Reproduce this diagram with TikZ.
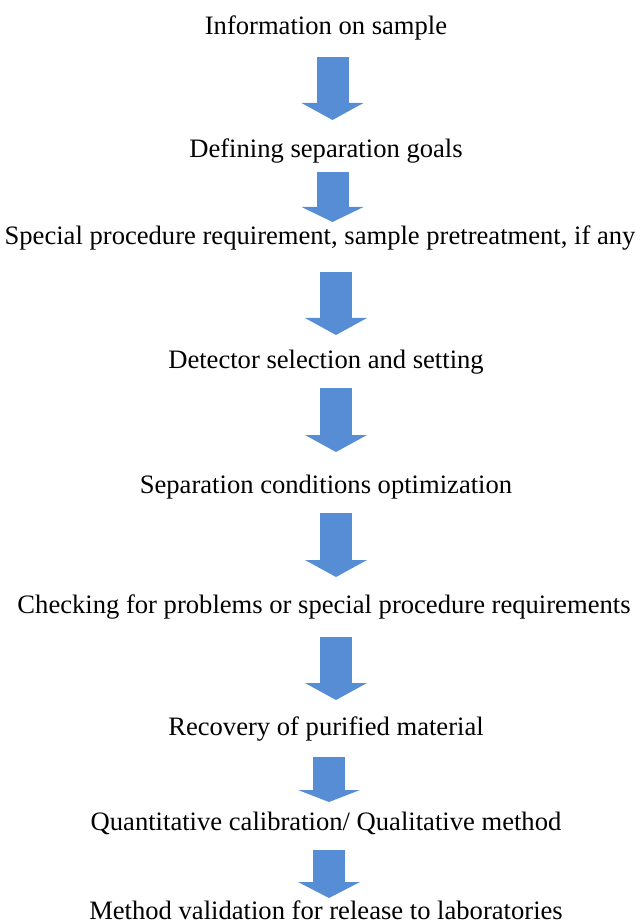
\documentclass[tikz,border=0pt]{standalone}
\usepackage{fontspec}
\setmainfont{Liberation Serif}
\usetikzlibrary{positioning, arrows.meta}
\definecolor{stepblue}{RGB}{86,141,213}

\begin{document}
\begin{tikzpicture}[
        x=0.5pt, y=-0.5pt,
        step_text/.style={anchor=base, inner sep=0pt, font=\fontsize{13.3}{15}\selectfont},
        block_arrow/.style={draw=stepblue, line width=16pt, -{Triangle[width=31pt, length=#1, line width=0pt, fill=stepblue]}},
        block_arrow/.default=8.5pt
    ]
        \useasboundingbox (0,0) rectangle (641,924);

        % steps of the method development
        \node[step_text] (info) at (326,35) {Information on sample};
        \node[step_text] (goals) at (326,158) {Defining separation goals};
        \node[step_text] (special) at (320,245) {Special procedure requirement, sample pretreatment, if any};
        \node[step_text] (detector) at (326,369) {Detector selection and setting};
        \node[step_text] (optim) at (326,493) {Separation conditions optimization};
        \node[step_text] (checking) at (324,613) {Checking for problems or special procedure requirements};
        \node[step_text] (recovery) at (326,735) {Recovery of purified material};
        \node[step_text] (calib) at (326,830) {Quantitative calibration/ Qualitative method};
        \node[step_text] (valid) at (326,919) {Method validation for release to laboratories};

        % block arrows between the steps
        \coordinate (a1top) at (332.5,57);   \coordinate (a1tip) at (332.5,120);
        \coordinate (a2top) at (332.5,172);  \coordinate (a2tip) at (332.5,222);
        \coordinate (a3top) at (336,272);    \coordinate (a3tip) at (336,335);
        \coordinate (a4top) at (336,388);    \coordinate (a4tip) at (336,452);
        \coordinate (a5top) at (336,513);    \coordinate (a5tip) at (336,577);
        \coordinate (a6top) at (336,637);    \coordinate (a6tip) at (336,700);
        \coordinate (a7top) at (329,757);    \coordinate (a7tip) at (329,802);
        \coordinate (a8top) at (329,850);    \coordinate (a8tip) at (329,898);

        \draw[block_arrow] (a1top) -- (a1tip);
        \draw[block_arrow=7.5pt] (a2top) -- (a2tip);
        \draw[block_arrow] (a3top) -- (a3tip);
        \draw[block_arrow] (a4top) -- (a4tip);
        \draw[block_arrow] (a5top) -- (a5tip);
        \draw[block_arrow] (a6top) -- (a6tip);
        \draw[block_arrow=6pt] (a7top) -- (a7tip);
        \draw[block_arrow=8pt] (a8top) -- (a8tip);

    \end{tikzpicture}
\end{document}
